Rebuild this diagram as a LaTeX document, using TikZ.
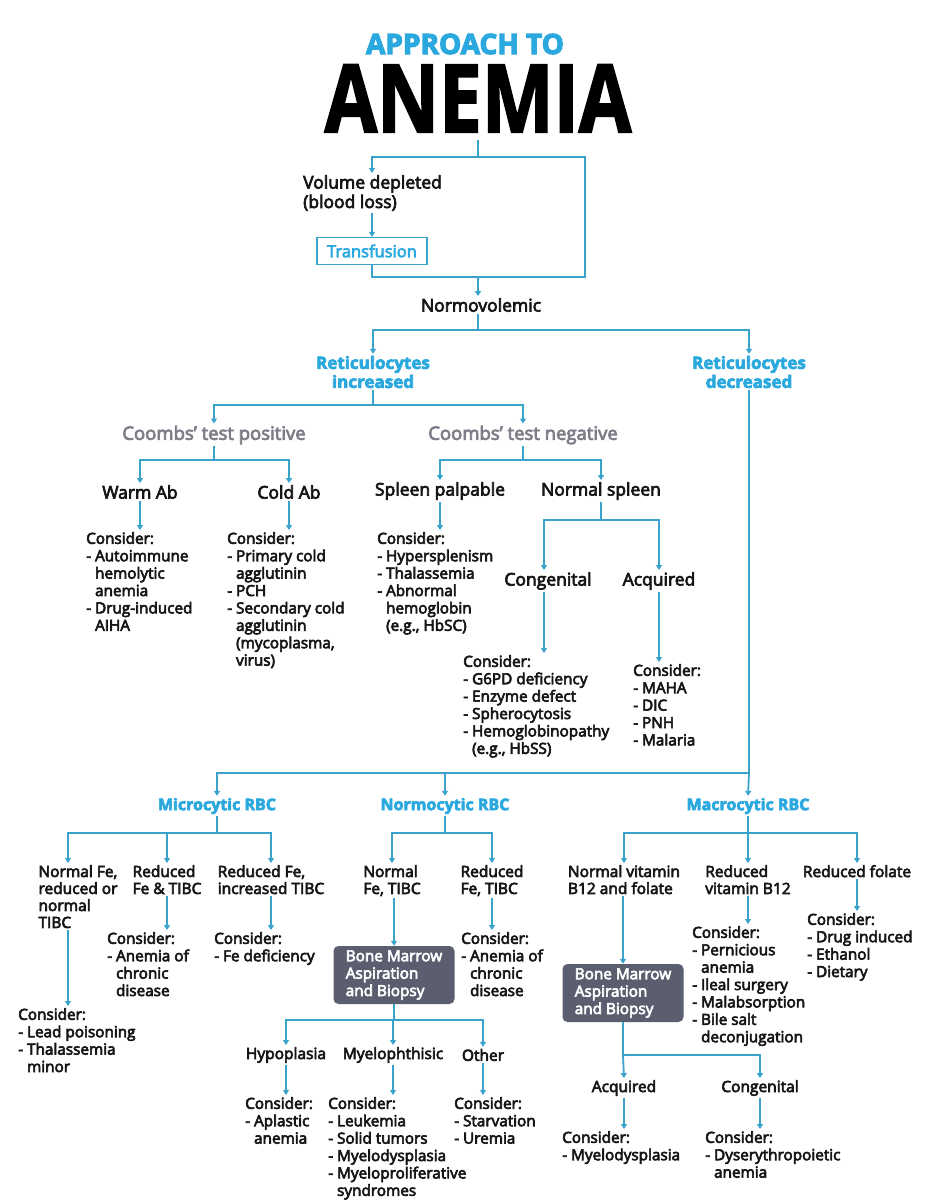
\documentclass[tikz,border=0pt]{standalone}
\usepackage{fontspec}
\setmainfont{Open Sans}[FakeBold=4]
\newfontfamily\titlefont{Open Sans}[FakeBold=2.2]
\usetikzlibrary{arrows.meta}

\definecolor{lineblue}{HTML}{3AA3CC}
\definecolor{headblue}{HTML}{2BA9DF}
\definecolor{coombsgray}{HTML}{7D7E88}
\definecolor{marrowgray}{HTML}{5A5E6E}
\definecolor{ink}{HTML}{161616}

\newcommand{\indt}{\hphantom{- }}

\tikzset{
  link/.style={draw=lineblue, line width=1.8pt},
  arrow/.style={link, -{Triangle[length=5pt,width=6pt]}},
  lbl/.style={inner sep=2pt, text=ink, font=\fontsize{17.5}{19.5}\selectfont},
  twoline/.style={inner sep=2pt, text=ink, anchor=north, align=left, font=\fontsize{15.5}{17}\selectfont},
  retic/.style={inner sep=2pt, text=headblue, align=center, font=\bfseries\fontsize{17}{19}\selectfont},
  coombs/.style={inner sep=2pt, text=coombsgray, font=\fontsize{18.5}{20}\selectfont},
  consider/.style={anchor=north west, align=left, inner sep=2pt, text=ink, font=\fontsize{15.3}{17.4}\selectfont},
  marrow/.style={fill=marrowgray, rounded corners=5pt, text=white, align=left, minimum width=121pt, minimum height=58pt, inner sep=2pt, font=\fontsize{15.3}{17.4}\selectfont}
}

\begin{document}
\begin{tikzpicture}[x=1pt,y=-1pt]
    \useasboundingbox[fill=white] (0,0) rectangle (928,1200);

    % title
    \node[text=headblue, font=\bfseries\fontsize{28}{30}\selectfont] (title1) at (465,44) {APPROACH TO};
    \node[anchor=base, inner sep=0pt, font=\titlefont\bfseries\fontsize{94}{100}\selectfont] (title2) at (478,132) {\scalebox{0.81}[1]{ANEMIA}};

    % volume status
    \node[lbl, anchor=north west, align=left] (vol) at (301,173) {Volume depleted\\(blood loss)};
    \node[draw=lineblue, line width=1.3pt, text=headblue, font=\fontsize{16.5}{19}\selectfont, minimum width=110pt, minimum height=27pt, inner sep=2pt] (transf) at (372,251) {Transfusion};
    \node[lbl] (normo) at (481,305) {Normovolemic};

    % reticulocytes
    \node[retic] (retinc) at (373,372) {Reticulocytes\\increased};
    \node[retic] (retdec) at (749,372) {Reticulocytes\\decreased};

    % coombs
    \node[coombs] (cpos) at (214,435) {Coombs’ test positive};
    \node[coombs] (cneg) at (523,435) {Coombs’ test negative};

    \node[lbl] (warm) at (140,492) {Warm Ab};
    \node[lbl] (cold) at (289,492) {Cold Ab};
    \node[lbl] (splp) at (440,491) {Spleen palpable};
    \node[lbl] (nspl) at (601,491) {Normal spleen};

    \node[consider] (cwarm) at (84,530) {Consider:\\- Autoimmune\\\indt hemolytic\\\indt anemia\\- Drug-induced\\\indt AIHA};
    \node[consider] (ccold) at (225,530) {Consider:\\- Primary cold\\\indt agglutinin\\- PCH\\- Secondary cold\\\indt agglutinin\\\indt (mycoplasma,\\\indt virus)};
    \node[consider] (cspl) at (375,530) {Consider:\\- Hypersplenism\\- Thalassemia\\- Abnormal\\\indt hemoglobin\\\indt (e.g., HbSC)};

    \node[lbl] (cong) at (548,581) {Congenital};
    \node[lbl] (acq) at (659,581) {Acquired};
    \node[consider] (ccong) at (461,653) {Consider:\\- G6PD deficiency\\- Enzyme defect\\- Spherocytosis\\- Hemoglobinopathy\\\indt (e.g., HbSS)};
    \node[consider] (cacq) at (631,662) {Consider:\\- MAHA\\- DIC\\- PNH\\- Malaria};

    % RBC size
    \node[retic, font=\bfseries\fontsize{16}{19}\selectfont] (micro) at (217,806) {Microcytic RBC};
    \node[retic, font=\bfseries\fontsize{16}{19}\selectfont] (normoc) at (445,806) {Normocytic RBC};
    \node[retic, font=\bfseries\fontsize{16}{19}\selectfont] (macro) at (748,806) {Macrocytic RBC};

    % microcytic
    \node[twoline] (nfe) at (78,863) {Normal Fe,\\reduced or\\normal\\TIBC};
    \node[twoline] (rft) at (167,863) {Reduced\\Fe \& TIBC};
    \node[twoline] (rfi) at (271,863) {Reduced Fe,\\increased TIBC};
    \node[consider] (clead) at (16,1006) {Consider:\\- Lead poisoning\\- Thalassemia\\\indt minor};
    \node[consider] (crft) at (105,930) {Consider:\\- Anemia of\\\indt chronic\\\indt disease};
    \node[consider] (crfi) at (212,930) {Consider:\\- Fe deficiency};

    % normocytic
    \node[twoline] (nft) at (392,863) {Normal\\Fe, TIBC};
    \node[twoline] (rfe) at (492,863) {Reduced\\Fe, TIBC};
    \node[marrow] (bm1) at (394,975) {Bone Marrow\\Aspiration\\and Biopsy};
    \node[consider] (crfe) at (459,930) {Consider:\\- Anemia of\\\indt chronic\\\indt disease};
    \node[twoline, anchor=center] (hypo) at (286,1055) {Hypoplasia};
    \node[twoline, anchor=center] (myelo) at (393,1055) {Myelophthisic};
    \node[twoline, anchor=center] (other) at (483,1055) {Other};
    \node[consider] (chypo) at (243,1095) {Consider:\\- Aplastic\\\indt anemia};
    \node[consider] (cmyelo) at (326,1095) {Consider:\\- Leukemia\\- Solid tumors\\- Myelodysplasia\\- Myeloproliferative\\\indt syndromes};
    \node[consider] (cother) at (452,1095) {Consider:\\- Starvation\\- Uremia};

    % macrocytic
    \node[twoline] (nvit) at (624,863) {Normal vitamin\\B12 and folate};
    \node[twoline] (rvit) at (748,863) {Reduced\\vitamin B12};
    \node[twoline] (rfol) at (857,863) {Reduced folate};
    \node[marrow] (bm2) at (623,993) {Bone Marrow\\Aspiration\\and Biopsy};
    \node[consider] (crvit) at (690,924) {Consider:\\- Pernicious\\\indt anemia\\- Ileal surgery\\- Malabsorption\\- Bile salt\\\indt deconjugation};
    \node[consider] (crfol) at (805,911) {Consider:\\- Drug induced\\- Ethanol\\- Dietary};
    \node[twoline, anchor=center] (acq2) at (624,1088) {Acquired};
    \node[twoline, anchor=center] (cong2) at (760,1088) {Congenital};
    \node[consider] (cacq2) at (560,1129) {Consider:\\- Myelodysplasia};
    \node[consider] (ccong2) at (703,1129) {Consider:\\- Dyserythropoietic\\\indt anemia};

    % branch points
    \coordinate (split0) at (478,157);
    \coordinate (merge0) at (585,277);
    \coordinate (split1) at (478,330);
    \coordinate (split2) at (373,405);
    \coordinate (split3) at (214,460);
    \coordinate (split4) at (523,460);
    \coordinate (split5) at (601,520);
    \coordinate (split6) at (749,773);
    \coordinate (split7) at (217,833);
    \coordinate (split8) at (445,833);
    \coordinate (split9) at (748,833);
    \coordinate (split10) at (394,1020);
    \coordinate (split11) at (623,1055);

\draw[link] ([yshift=-8pt]title2.base) -- (split0);
\draw[arrow] (split0) -| (vol.north -| transf);
\draw[arrow] (vol.south -| transf) -- (transf.north);
\draw[link] (split0) -| (merge0) -| (transf.south);
\draw[arrow] (split1 |- merge0) -- (split1 |- normo.north);

\draw[link] (split1 |- normo.south) -- (split1);
\draw[arrow] (split1) -| (retinc.north);
\draw[arrow] (split1) -| (retdec.north);

\draw[link] (retinc.south) -- (split2);
\draw[arrow] (split2) -| (cpos.north);
\draw[arrow] (split2) -| (cneg.north);

\draw[link] (cpos.south) -- (split3);
\draw[arrow] (split3) -| (warm.north);
\draw[arrow] (split3) -| (cold.north);
\draw[link] (cneg.south) -- (split4);
\draw[arrow] (split4) -| (splp.north);
\draw[arrow] (split4) -| (nspl.north);

\draw[arrow] (warm.south) -- (warm.south |- cwarm.north);
\draw[arrow] (cold.south) -- (cold.south |- ccold.north);
\draw[arrow] (splp.south) -- (splp.south |- cspl.north);

\draw[link] (nspl.south) -- (split5);
\draw[arrow] (split5) -| ([xshift=-4pt]cong.north);
\draw[arrow] (split5) -| (acq.north);
\draw[arrow] ([xshift=-4pt]cong.south) -- ([xshift=-4pt]cong.south |- ccong.north);
\draw[arrow] (acq.south) -- (acq.south |- cacq.north);

\draw[link] (retdec.south) -- (split6);
\draw[arrow] (split6) -- (macro.north);
\draw[arrow] (split6) -| (micro.north);
\draw[arrow] (split6 -| normoc) -- (normoc.north);

\draw[link] (micro.south) -- (split7);
\draw[arrow] (split7) -| ([xshift=-10pt]nfe.north);
\draw[arrow] (split7) -| (rft.north);
\draw[arrow] (split7) -| (rfi.north);
\draw[arrow] ([xshift=-10pt]nfe.south) -- ([xshift=-10pt]nfe.south |- clead.north);
\draw[arrow] (rft.south) -- (rft.south |- crft.north);
\draw[arrow] (rfi.south) -- (rfi.south |- crfi.north);

\draw[link] (normoc.south) -- (split8);
\draw[arrow] (split8) -| (nft.north);
\draw[arrow] (split8) -| (rfe.north);
\draw[arrow] (nft.south -| bm1) -- (bm1.north);
\draw[arrow] (rfe.south) -- (rfe.south |- crfe.north);

\draw[link] (bm1.south) -- (split10);
\draw[arrow] (split10) -| (hypo.north);
\draw[arrow] (split10) -- (split10 -| myelo) -- (myelo.north);
\draw[arrow] (split10) -| (other.north);
\draw[arrow] (hypo.south) -- (hypo.south |- chypo.north);
\draw[arrow] (myelo.south) -- (myelo.south |- cmyelo.north);
\draw[arrow] (other.south) -- (other.south |- cother.north);

\draw[link] (macro.south) -- (split9);
\draw[arrow] (split9) -| (nvit.north);
\draw[arrow] (split9) -- (rvit.north);
\draw[arrow] (split9) -| (rfol.north);
\draw[arrow] (nvit.south -| bm2) -- (bm2.north);
\draw[arrow] (rvit.south) -- (rvit.south |- crvit.north);
\draw[arrow] (rfol.south) -- (rfol.south |- crfol.north);

\draw[link] (bm2.south) -- (split11);
\draw[arrow] (split11) -- (acq2.north);
\draw[arrow] (split11) -| (cong2.north);
\draw[arrow] (acq2.south) -- (acq2.south |- cacq2.north);
\draw[arrow] (cong2.south) -- (cong2.south |- ccong2.north);

\end{tikzpicture}
\end{document}
